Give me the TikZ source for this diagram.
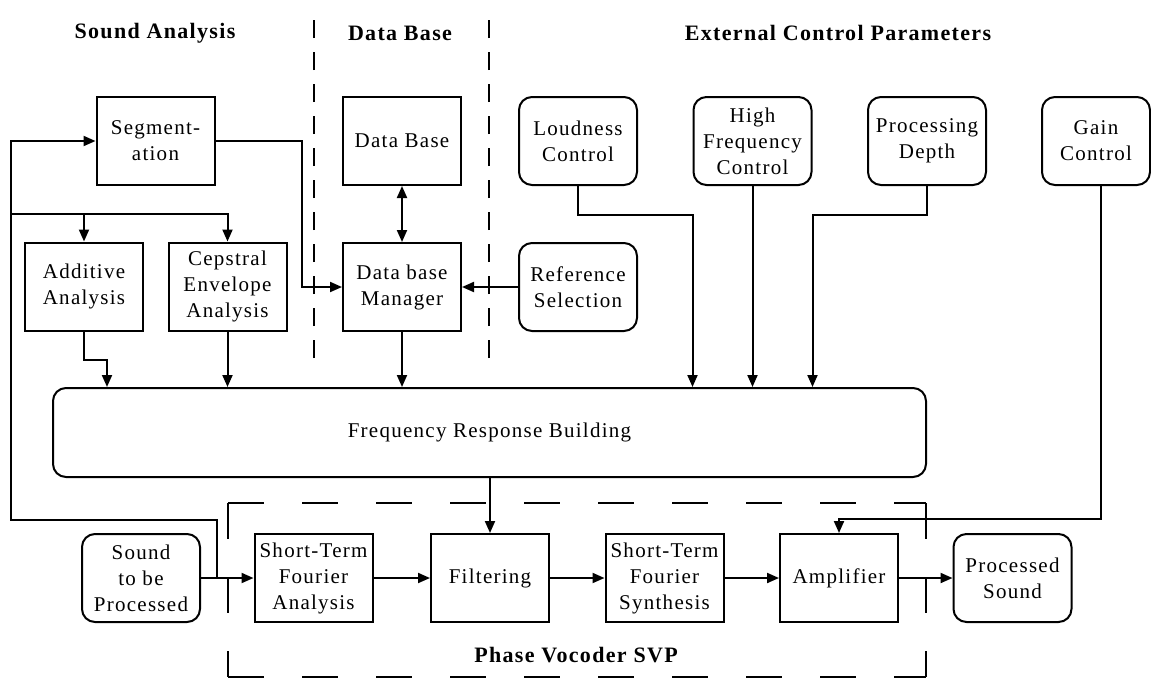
\documentclass[tikz,border=0pt]{standalone}
\usepackage{fontspec}
\setmainfont{Liberation Serif}[LetterSpace=6]
\usetikzlibrary{positioning,arrows.meta,calc}

\begin{document}
\begin{tikzpicture}[x = 1pt, y = -1pt, line width = 2pt,
 >={Triangle[length=12pt, width=10pt]},
 block/.style = {draw, minimum width = 118pt, minimum height = 88pt, inner sep = 0pt,
   align = center, font = \fontsize{21}{26}\selectfont},
 ctrl/.style = {block, rounded corners = 13pt},
 heading/.style = {font = \fontsize{22}{26}\selectfont\bfseries},
 sepline/.style = {dash pattern = on 18pt off 14pt},
 svpline/.style = {dash pattern = on 36pt off 38pt}]
 \useasboundingbox (0,0) rectangle (1151,678);

 \node[heading] (tsa) at (155,33) {Sound Analysis};
 \node[heading] (tdb) at (400,33) {Data Base};
 \node[heading] (tecp) at (838,33) {External Control Parameters};
 \draw[sepline] (314,358) -- (314,8);
 \draw[sepline] (489,358) -- (489,8);

 \node[block] (seg) at (155.5,141) {Segment-\\ation};
 \node[block] (db) at (402,141) {Data Base};
 \node[ctrl] (loud) at (578,141) {Loudness\\Control};
 \node[ctrl] (hfc) at (752.5,141) {High\\Frequency\\Control};
 \node[ctrl] (pdep) at (927,141) {Processing\\Depth};
 \node[ctrl, minimum width = 108pt] (gain) at (1096,141) {Gain\\Control};

 \node[block] (add) at (84,286.5) {Additive\\Analysis};
 \node[block] (cep) at (227.5,286.5) {Cepstral\\Envelope\\Analysis};
 \node[block] (dbm) at (402,287) {Data base\\Manager};
 \node[ctrl] (ref) at (578,287) {Reference\\Selection};

 \node[ctrl, minimum width = 873pt, minimum height = 89pt] (frb) at (489.5,432.5) {Frequency Response Building};

 \node[ctrl] (snd) at (141,578) {Sound\\to be\\Processed};
 \node[block] (stfa) at (313.5,578) {Short-Term\\Fourier\\Analysis};
 \node[block] (filt) at (490,578) {Filtering};
 \node[block] (stfs) at (664.5,578) {Short-Term\\Fourier\\Synthesis};
 \node[block] (amp) at (839,578) {Amplifier};
 \node[ctrl] (proc) at (1012.5,578) {Processed\\Sound};

 \coordinate (svpnw) at (228,503);
 \coordinate (svpne) at (926,503);
 \coordinate (svpsw) at (228,677);
 \coordinate (svpse) at (926,677);
 \draw[svpline] (svpnw) -- (svpne);
 \draw[svpline] (svpne) -- (svpse);
 \draw[svpline] (svpnw) -- (svpsw);
 \draw[svpline] (svpsw) -- (svpse);
 \node[heading] (svp) at (576,655) {Phase Vocoder SVP};

 \coordinate (fbk) at (217,578);
 \coordinate (br) at (11,214);
 \draw [->] (fbk) -- ++(0,-58) -- ++(-206,0) |- (seg.west);
 \draw [->] (br) -| (add.north);
 \draw [->] (br) -| (cep.north);
 \draw [->] (seg.east) -- ++(86,0) |- (dbm.west);
 \draw [<->] (db) -- (dbm);
 \draw [->] (ref) -- (dbm);
 \draw [->] (add.south) -- ++(0,28) -| ([xshift = 55pt]frb.north west);
 \draw [->] (cep.south) -- (cep.south |- frb.north);
 \draw [->] (dbm.south) -- (dbm.south |- frb.north);
 \draw [->] (loud.south) -- ++(0,29) -| (hfc.west |- frb.north);
 \draw [->] (hfc.south) -- (hfc.south |- frb.north);
 \draw [->] (pdep.south) -- ++(0,29) -| (hfc.east |- frb.north);
 \draw [->] ([xshift = 5pt]gain.south) |- ($(amp.north) + (0,-14)$) -- (amp.north);
 \draw [->] (frb.south -| filt.north) -- (filt.north);
 \draw [->] (snd) -- (stfa);
 \draw [->] (stfa) -- (filt);
 \draw [->] (filt) -- (stfs);
 \draw [->] (stfs) -- (amp);
 \draw [->] (amp) -- (proc);

\end{tikzpicture}
\end{document}
